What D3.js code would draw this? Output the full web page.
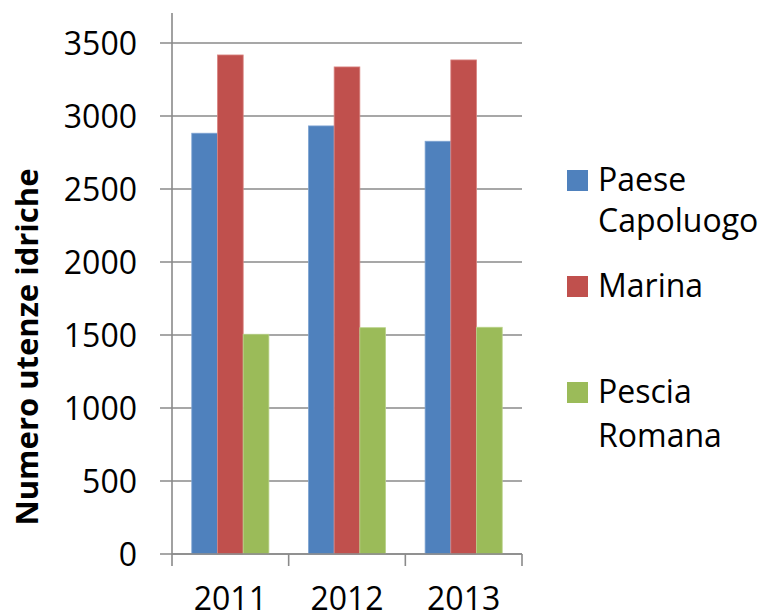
<!DOCTYPE html>
<html><head><meta charset="utf-8">
<script src="https://cdn.jsdelivr.net/npm/d3@7"></script>
<style>html,body{margin:0;padding:0;background:#fff;}svg{display:block;}</style>
</head><body>
<svg id="c" width="762" height="613"></svg>
<script>
const years = ["2011", "2012", "2013"];
const seriesNames = ["Paese Capoluogo", "Marina", "Pescia Romana"];
const paeseCapoluogo = [2882, 2932, 2827];
const marina = [3418, 3336, 3384];
const pesciaRomana = [1505, 1550, 1553];
const yTicks = [0, 500, 1000, 1500, 2000, 2500, 3000, 3500];
const colors = ["#4F81BD", "#C0504D", "#9BBB59"];
const strokes = ["#7EA3D2", "#D98481", "#B9D289"];
const legendLines = [["Paese", "Capoluogo"], ["Marina"], ["Pescia", "Romana"]];

const values = [paeseCapoluogo, marina, pesciaRomana];
const svg = d3.select("#c");
const font = "'Open Sans', sans-serif";
const plotL = 172, plotR = 522, plotT = 43, plotB = 554;

const y = d3.scaleLinear().domain([0, 3500]).range([plotB, plotT]);
const x0 = d3.scaleBand().domain(years).range([plotL, plotR]).padding(0);
const x1 = d3.scaleBand().domain(d3.range(seriesNames.length)).range([0, x0.bandwidth()]).paddingInner(0).paddingOuter(0.77);

// gridlines + y ticks
svg.append("g").selectAll("line").data(yTicks).join("line")
  .attr("x1", plotL - 12).attr("x2", plotR)
  .attr("y1", d => y(d)).attr("y2", d => y(d))
  .attr("stroke", "#8a8a8a").attr("stroke-width", 1.6);

// bars
years.forEach((yr, i) => {
  const g = svg.append("g").attr("transform", `translate(${x0(yr)},0)`);
  values.forEach((arr, s) => {
    g.append("rect")
      .attr("x", x1(s)).attr("width", x1.bandwidth())
      .attr("y", y(arr[i])).attr("height", y(0) - y(arr[i]))
      .attr("fill", colors[s]).attr("stroke", strokes[s]).attr("stroke-width", 0.8);
  });
});

// y axis line
svg.append("line").attr("x1", plotL).attr("x2", plotL).attr("y1", 13).attr("y2", plotB)
  .attr("stroke", "#8a8a8a").attr("stroke-width", 1.6);
// x axis line
svg.append("line").attr("x1", plotL).attr("x2", plotR).attr("y1", plotB).attr("y2", plotB)
  .attr("stroke", "#8a8a8a").attr("stroke-width", 1.6);
// x ticks at band edges
const edges = years.map(d => x0(d)).concat([x0(years[years.length - 1]) + x0.bandwidth()]);
svg.append("g").selectAll("line").data(edges).join("line")
  .attr("x1", d => d).attr("x2", d => d).attr("y1", plotB).attr("y2", plotB + 12)
  .attr("stroke", "#8a8a8a").attr("stroke-width", 1.6);

// y tick labels
svg.append("g").selectAll("text").data(yTicks).join("text")
  .attr("x", 137).attr("y", d => y(d)).attr("dy", "0.36em")
  .attr("text-anchor", "end").attr("font-family", font).attr("font-size", 32)
  .attr("fill", "#000").text(d => d);

// x labels
svg.append("g").selectAll("text").data(years).join("text")
  .attr("x", d => x0(d) + x0.bandwidth() / 2).attr("y", 610)
  .attr("text-anchor", "middle").attr("font-family", font).attr("font-size", 32)
  .attr("fill", "#000").text(d => d);

// y title
svg.append("text")
  .attr("transform", "translate(38,347) rotate(-90)")
  .attr("text-anchor", "middle").attr("font-family", font).attr("font-weight", "bold")
  .attr("font-size", 31).attr("fill", "#000").text("Numero utenze idriche");

// legend
const legBase = [[191, 232], [297], [403, 447]];
seriesNames.forEach((name, s) => {
  svg.append("rect").attr("x", 567).attr("y", legBase[s][0] - 21).attr("width", 21).attr("height", 21)
    .attr("fill", colors[s]);
  legendLines[s].forEach((ln, j) => {
    svg.append("text").attr("x", 598).attr("y", legBase[s][j])
      .attr("font-family", font).attr("font-size", 32).attr("fill", "#000").text(ln);
  });
});
</script>
</body></html>
